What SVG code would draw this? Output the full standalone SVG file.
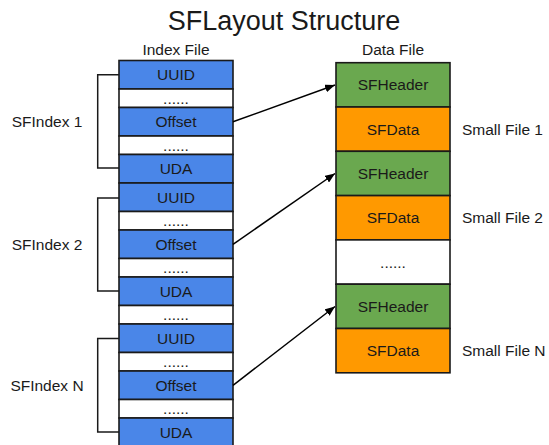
<svg xmlns="http://www.w3.org/2000/svg" width="549" height="445" viewBox="0 0 549 445">
<defs>
<style>
text{font-family:"Liberation Sans",Arial,sans-serif;fill:#1a1a1a}
.t{font-size:27px;text-anchor:middle}
.h{font-size:15.5px;text-anchor:middle}
.c{font-size:15.5px;text-anchor:middle}
.l{font-size:15.5px;text-anchor:middle}
.r{font-size:15.5px;text-anchor:start}
.blue{fill:#4a86e8;stroke:#1a1a1a;stroke-width:1.6}
.white{fill:#ffffff;stroke:#1a1a1a;stroke-width:1.6}
.green{fill:#6aa84f;stroke:#1a1a1a;stroke-width:1.6}
.orange{fill:#ff9900;stroke:#1a1a1a;stroke-width:1.6}
.br{fill:none;stroke:#1a1a1a;stroke-width:1.5}
.ar{fill:none;stroke:#000;stroke-width:1.5;marker-end:url(#ah)}
</style>
<marker id="ah" viewBox="0 0 10 8" refX="10" refY="4" markerWidth="10" markerHeight="8" markerUnits="userSpaceOnUse" orient="auto">
<path d="M0,0 L10,4 L0,8 Z" fill="#000"/>
</marker>
</defs>
<rect width="549" height="445" fill="#ffffff"/>
<text class="t" x="284" y="29.5">SFLayout Structure</text>
<text class="h" x="176" y="55">Index File</text>
<text class="h" x="393" y="55">Data File</text>

<g id="index-file">
<g id="uuid1"><rect class="blue" x="119" y="60.5" width="114" height="28.5"/><text class="c" x="176" y="80.3">UUID</text></g>
<g id="gap1a"><rect class="white" x="119" y="89" width="114" height="18.5"/><text class="c" x="176" y="103.8">......</text></g>
<g id="offset1"><rect class="blue" x="119" y="107.5" width="114" height="28.5"/><text class="c" x="176" y="127.3">Offset</text></g>
<g id="gap1b"><rect class="white" x="119" y="136" width="114" height="18.5"/><text class="c" x="176" y="150.8">......</text></g>
<g id="uda1"><rect class="blue" x="119" y="154.5" width="114" height="28.5"/><text class="c" x="176" y="174.3">UDA</text></g>
<g id="uuid2"><rect class="blue" x="119" y="183" width="114" height="28.5"/><text class="c" x="176" y="202.8">UUID</text></g>
<g id="gap2a"><rect class="white" x="119" y="211.5" width="114" height="18.5"/><text class="c" x="176" y="226.3">......</text></g>
<g id="offset2"><rect class="blue" x="119" y="230" width="114" height="28.5"/><text class="c" x="176" y="249.8">Offset</text></g>
<g id="gap2b"><rect class="white" x="119" y="258.5" width="114" height="18.5"/><text class="c" x="176" y="273.3">......</text></g>
<g id="uda2"><rect class="blue" x="119" y="277" width="114" height="28.5"/><text class="c" x="176" y="296.8">UDA</text></g>
<g id="gap23"><rect class="white" x="119" y="305.5" width="114" height="18.5"/><text class="c" x="176" y="320.3">......</text></g>
<g id="uuid3"><rect class="blue" x="119" y="324" width="114" height="28.5"/><text class="c" x="176" y="343.8">UUID</text></g>
<g id="gap3a"><rect class="white" x="119" y="352.5" width="114" height="18.5"/><text class="c" x="176" y="367.3">......</text></g>
<g id="offset3"><rect class="blue" x="119" y="371" width="114" height="28.5"/><text class="c" x="176" y="390.8">Offset</text></g>
<g id="gap3b"><rect class="white" x="119" y="399.5" width="114" height="18.5"/><text class="c" x="176" y="414.3">......</text></g>
<g id="uda3"><rect class="blue" x="119" y="418" width="114" height="28.5"/><text class="c" x="176" y="437.8">UDA</text></g>
</g>

<g id="data-file">
<g id="header1"><rect class="green" x="336" y="62.7" width="114" height="44.3"/><text class="c" x="393" y="90.4">SFHeader</text></g>
<g id="data1"><rect class="orange" x="336" y="107" width="114" height="44.3"/><text class="c" x="393" y="134.7">SFData</text></g>
<g id="header2"><rect class="green" x="336" y="151.3" width="114" height="44.3"/><text class="c" x="393" y="179">SFHeader</text></g>
<g id="data2"><rect class="orange" x="336" y="195.6" width="114" height="44.3"/><text class="c" x="393" y="223.3">SFData</text></g>
<g id="gapdata"><rect class="white" x="336" y="239.9" width="114" height="44.3"/><text class="c" x="393" y="267.6">......</text></g>
<g id="header3"><rect class="green" x="336" y="284.2" width="114" height="44.3"/><text class="c" x="393" y="311.9">SFHeader</text></g>
<g id="data3"><rect class="orange" x="336" y="328.5" width="114" height="44.3"/><text class="c" x="393" y="356.2">SFData</text></g>
</g>

<g id="index-labels">
<g id="sfindex1"><text class="l" x="47" y="127.3">SFIndex 1</text></g>
<g id="sfindex2"><text class="l" x="47" y="249.8">SFIndex 2</text></g>
<g id="sfindexn"><text class="l" x="47" y="390.8">SFIndex N</text></g>
</g>

<g id="file-labels">
<g id="smallfile1"><text class="r" x="462" y="134.7">Small File 1</text></g>
<g id="smallfile2"><text class="r" x="462" y="223.3">Small File 2</text></g>
<g id="smallfilen"><text class="r" x="462" y="356.2">Small File N</text></g>
</g>

<g id="brackets">
<path class="br" d="M119,74.8 H97.7 V168 H119"/>
<path class="br" d="M119,198 H97.7 V291 H119"/>
<path class="br" d="M119,338.5 H97.7 V432 H119"/>
</g>

<g id="connectors">
<path class="ar" d="M233,121.8 L335,85"/>
<path class="ar" d="M233,244.3 L335,173.5"/>
<path class="ar" d="M233,385.3 L335,306.5"/>
</g>
</svg>
